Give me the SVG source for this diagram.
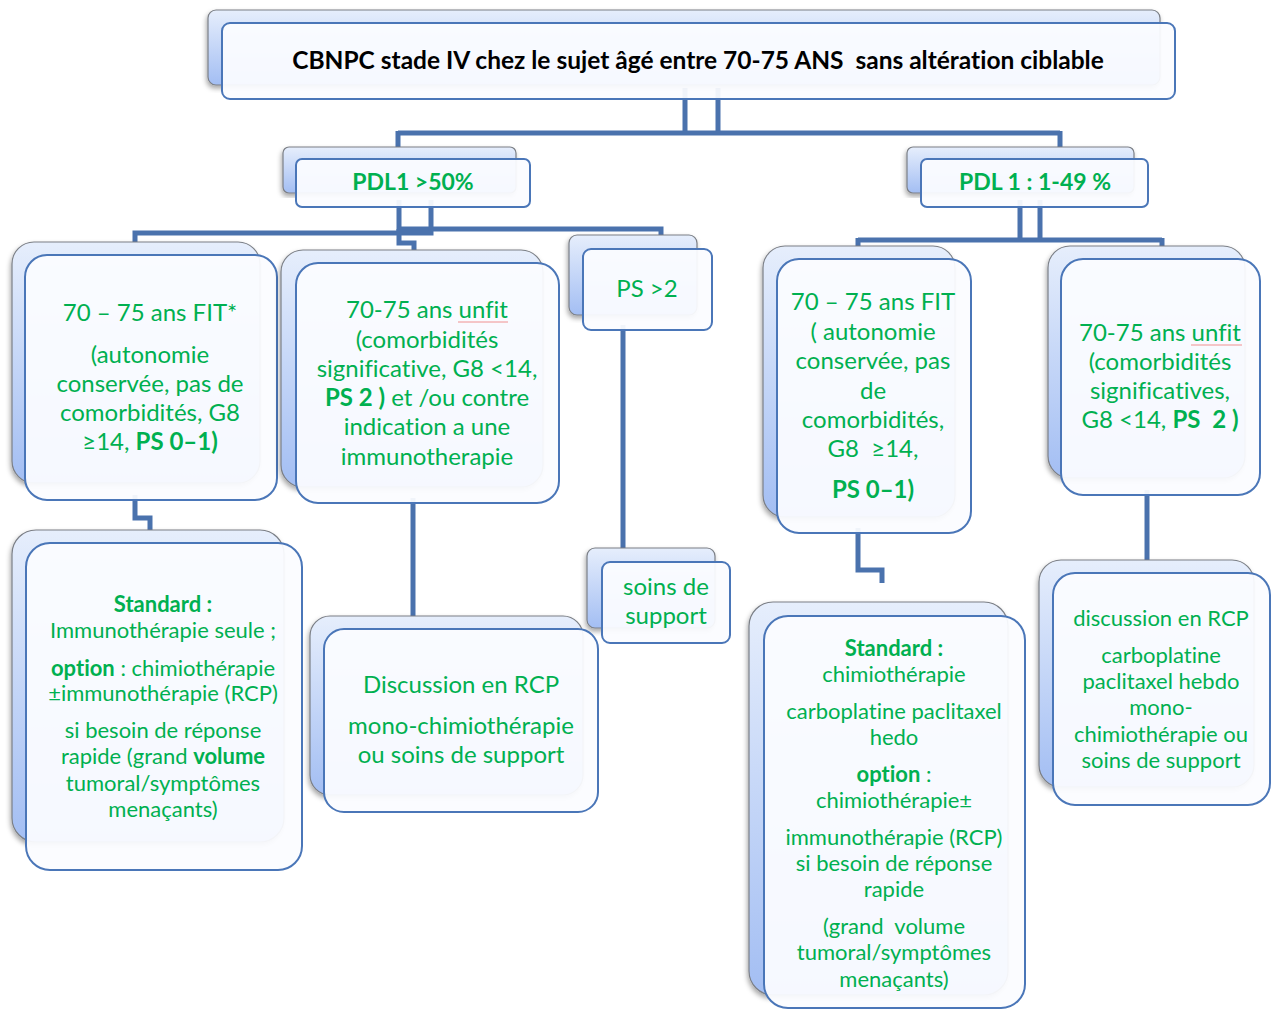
<svg xmlns="http://www.w3.org/2000/svg" width="1275" height="1010" viewBox="0 0 1275 1010">
<defs>
<linearGradient id="g" x1="0" y1="0" x2="0" y2="1">
<stop offset="0" stop-color="#e6eefc"/>
<stop offset="1" stop-color="#a3bef3"/>
</linearGradient>
<filter id="sh" x="-10%" y="-10%" width="120%" height="120%">
<feDropShadow dx="-1" dy="3" stdDeviation="2.5" flood-color="#000" flood-opacity="0.35"/>
</filter>
<style>
.bk{fill:url(#g);stroke:#7b7f86;stroke-width:1.2;filter:url(#sh)}
.fr{fill:#fbfcff;fill-opacity:0.94;stroke:#4a76b8;stroke-width:2}
.t{font-family:Lato,"Open Sans",sans-serif;fill:#00b050;text-anchor:middle;font-size:24px;font-variant-ligatures:none}
.s{font-size:22px}
.p{font-size:23px}
.h{font-family:Lato,"Open Sans",sans-serif;fill:#000;text-anchor:middle;font-size:24.5px;font-weight:bold;font-variant-ligatures:none}
.b{font-weight:bold}
.c{fill:none;stroke:#4a72ad;stroke-width:5}
.u{fill:none;stroke:#f09090;stroke-width:1}
</style>
</defs>
<rect width="1275" height="1010" fill="#fff"/>

<g id="connectors">
<path class="c" d="M685,88 V133 M718,88 V133 M398,133 H1060 M398,131 V150 M1060,131 V150"/>
<path class="c" d="M399,200 V229 H661 V238"/>
<path class="c" d="M431,200 V233 H135 V244"/>
<path class="c" d="M399,229 V243 H414 V252"/>
<path class="c" d="M135,495 V518 H150 V530"/>
<path class="c" d="M413,498 V618"/>
<path class="c" d="M623,325 V550"/>
<path class="c" d="M1020,200 V240 M1040,200 V240 M858,240 H1162 M858,238 V248 M1162,238 V248"/>
<path class="c" d="M858,528 V570 H882 V583"/>
<path class="c" d="M1147,490 V562"/>
</g>

<g id="n-root">
<rect class="bk" x="208" y="10" width="952" height="75" rx="8"/>
<rect class="fr" x="222" y="23" width="953" height="76" rx="8"/>
<text class="h" x="698" y="69" xml:space="preserve">CBNPC stade IV chez le sujet âgé entre 70-75 ANS  sans altération ciblable</text>
</g>

<g id="n-pdl50">
<rect class="bk" x="283" y="147" width="233" height="46" rx="6"/>
<rect class="fr" x="296" y="159" width="234" height="48" rx="6"/>
<text class="t p b" x="413" y="190">PDL1 &gt;50%</text>
</g>

<g id="n-pdl149">
<rect class="bk" x="907" y="147" width="227" height="46" rx="6"/>
<rect class="fr" x="921" y="159" width="227" height="48" rx="6"/>
<text class="t p b" x="1035" y="190">PDL 1 : 1-49 %</text>
</g>

<g id="n-fit1">
<rect class="bk" x="12" y="242" width="248" height="241" rx="22"/>
<rect class="fr" x="25" y="255" width="252" height="245" rx="22"/>
<text class="t" x="150" y="321">70 – 75 ans FIT*</text>
<text class="t" x="150" y="363">(autonomie</text>
<text class="t" x="150" y="392">conservée, pas de</text>
<text class="t" x="150" y="421">comorbidités, G8</text>
<text class="t" x="150" y="450">≥14, <tspan class="b">PS 0–1)</tspan></text>
</g>

<g id="n-unfit1">
<rect class="bk" x="281" y="250" width="262" height="237" rx="22"/>
<rect class="fr" x="296" y="263" width="263" height="240" rx="22"/>
<text class="t" x="427" y="318">70-75 ans unfit</text>
<path class="u" d="M458,322 H508"/>
<text class="t" x="427" y="348">(comorbidités</text>
<text class="t" x="427" y="377">significative, G8 &lt;14,</text>
<text class="t" x="427" y="406"><tspan class="b">PS 2 )</tspan> et /ou contre</text>
<text class="t" x="427" y="435">indication a une</text>
<text class="t" x="427" y="465">immunotherapie</text>
</g>

<g id="n-ps2">
<rect class="bk" x="569" y="235" width="128" height="80" rx="8"/>
<rect class="fr" x="583" y="249" width="129" height="81" rx="8"/>
<text class="t" x="647" y="297">PS &gt;2</text>
</g>

<g id="n-soins">
<rect class="bk" x="587" y="548" width="128" height="80" rx="8"/>
<rect class="fr" x="602" y="562" width="128" height="81" rx="8"/>
<text class="t" x="666" y="595">soins de</text>
<text class="t" x="666" y="624">support</text>
</g>

<g id="n-std1">
<rect class="bk" x="12" y="530" width="272" height="312" rx="24"/>
<rect class="fr" x="26" y="543" width="276" height="327" rx="24"/>
<text class="t s b" x="163" y="612">Standard :</text>
<text class="t s" x="163" y="638">Immunothérapie seule ;</text>
<text class="t s" x="163" y="676"><tspan class="b">option</tspan> : chimiothérapie</text>
<text class="t s" x="163" y="701">±immunothérapie (RCP)</text>
<text class="t s" x="163" y="738">si besoin de réponse</text>
<text class="t s" x="163" y="764">rapide (grand <tspan class="b">volume</tspan></text>
<text class="t s" x="163" y="791">tumoral/symptômes</text>
<text class="t s" x="163" y="817">menaçants)</text>
</g>

<g id="n-disc1">
<rect class="bk" x="310" y="616" width="273" height="179" rx="20"/>
<rect class="fr" x="324" y="629" width="274" height="183" rx="20"/>
<text class="t" x="461" y="693">Discussion en RCP</text>
<text class="t" x="461" y="734">mono-chimiothérapie</text>
<text class="t" x="461" y="763">ou soins de support</text>
</g>

<g id="n-fit2">
<rect class="bk" x="763" y="246" width="192" height="271" rx="22"/>
<rect class="fr" x="777" y="259" width="194" height="274" rx="22"/>
<text class="t" x="873" y="310">70 – 75 ans FIT</text>
<text class="t" x="873" y="340">( autonomie</text>
<text class="t" x="873" y="369">conservée, pas</text>
<text class="t" x="873" y="399">de</text>
<text class="t" x="873" y="428">comorbidités,</text>
<text class="t" x="873" y="457" xml:space="preserve">G8  ≥14,</text>
<text class="t b" x="873" y="498">PS 0–1)</text>
</g>

<g id="n-unfit2">
<rect class="bk" x="1048" y="246" width="197" height="232" rx="22"/>
<rect class="fr" x="1061" y="259" width="199" height="236" rx="22"/>
<text class="t" x="1160" y="341">70-75 ans unfit</text>
<path class="u" d="M1191,345 H1242"/>
<text class="t" x="1160" y="370">(comorbidités</text>
<text class="t" x="1160" y="399">significatives,</text>
<text class="t" x="1160" y="428" xml:space="preserve">G8 &lt;14, <tspan class="b">PS  2 )</tspan></text>
</g>

<g id="n-std2">
<rect class="bk" x="749" y="602" width="259" height="393" rx="24"/>
<rect class="fr" x="764" y="616" width="261" height="392" rx="24"/>
<text class="t s b" x="894" y="656">Standard :</text>
<text class="t s" x="894" y="682">chimiothérapie</text>
<text class="t s" x="894" y="719">carboplatine paclitaxel</text>
<text class="t s" x="894" y="745">hedo</text>
<text class="t s" x="894" y="782"><tspan class="b">option</tspan> :</text>
<text class="t s" x="894" y="808">chimiothérapie±</text>
<text class="t s" x="894" y="845">immunothérapie (RCP)</text>
<text class="t s" x="894" y="871">si besoin de réponse</text>
<text class="t s" x="894" y="897">rapide</text>
<text class="t s" x="894" y="934" xml:space="preserve">(grand  volume</text>
<text class="t s" x="894" y="960">tumoral/symptômes</text>
<text class="t s" x="894" y="987">menaçants)</text>
</g>

<g id="n-disc2">
<rect class="bk" x="1039" y="560" width="215" height="227" rx="22"/>
<rect class="fr" x="1053" y="573" width="217" height="232" rx="22"/>
<text class="t s" x="1161" y="626">discussion en RCP</text>
<text class="t s" x="1161" y="663">carboplatine</text>
<text class="t s" x="1161" y="689">paclitaxel hebdo</text>
<text class="t s" x="1161" y="715">mono-</text>
<text class="t s" x="1161" y="742">chimiothérapie ou</text>
<text class="t s" x="1161" y="768">soins de support</text>
</g>
</svg>
